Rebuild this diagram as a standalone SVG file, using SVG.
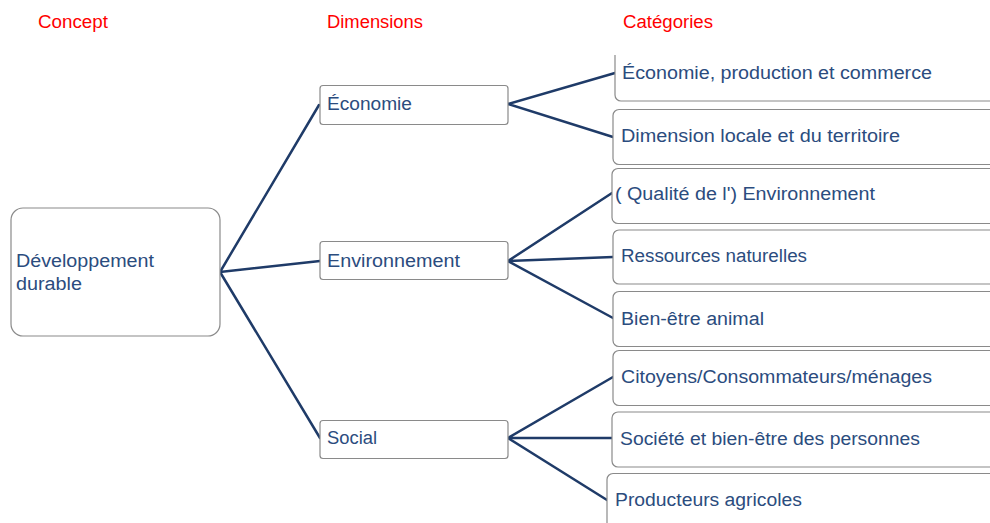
<svg xmlns="http://www.w3.org/2000/svg" width="990" height="523" viewBox="0 0 990 523">
  <style>
    .hdr { font-family: "Liberation Sans", Arial, sans-serif; font-size: 18px; fill: #ff0000; }
    .lbl { font-family: "Liberation Sans", Arial, sans-serif; font-size: 18px; fill: #2b4c7e; }
    .box { fill: #ffffff; stroke: #8a8a8a; stroke-width: 1.2; }
    .link { fill: none; stroke: #1f3b68; stroke-width: 2.5; stroke-linecap: round; }
  </style>
  <rect x="0" y="0" width="990" height="523" fill="#ffffff"/>

  <!-- column headers -->
  <g id="headers">
    <text class="hdr" x="38" y="28" textLength="70" lengthAdjust="spacingAndGlyphs">Concept</text>
    <text class="hdr" x="327" y="28" textLength="96" lengthAdjust="spacingAndGlyphs">Dimensions</text>
    <text class="hdr" x="623" y="28" textLength="90" lengthAdjust="spacingAndGlyphs">Catégories</text>
  </g>

  <!-- connectors -->
  <g id="connectors">
    <polyline class="link" points="319,105 220,272 320,261"/>
    <line class="link" x1="220" y1="272" x2="320" y2="438"/>
    <polyline class="link" points="615,73 508,104 613,137"/>
    <polyline class="link" points="612,193 508,261 613,257"/>
    <line class="link" x1="508" y1="261" x2="613" y2="318"/>
    <polyline class="link" points="613,377 508,438 612,438"/>
    <line class="link" x1="508" y1="438" x2="607" y2="500"/>
  </g>

  <!-- concept -->
  <g id="concept">
    <rect class="box" x="11" y="208" width="209" height="128" rx="12"/>
    <text class="lbl" x="16" y="267" textLength="138" lengthAdjust="spacingAndGlyphs">Développement</text>
    <text class="lbl" x="16" y="290" textLength="66" lengthAdjust="spacingAndGlyphs">durable</text>
  </g>

  <!-- dimensions -->
  <g id="dim-economie">
    <rect class="box" x="320" y="85.5" width="188" height="39" rx="3"/>
    <text class="lbl" x="327" y="110" textLength="85" lengthAdjust="spacingAndGlyphs">Économie</text>
  </g>
  <g id="dim-environnement">
    <rect class="box" x="320" y="241.5" width="188" height="38" rx="3"/>
    <text class="lbl" x="327" y="267" textLength="133" lengthAdjust="spacingAndGlyphs">Environnement</text>
  </g>
  <g id="dim-social">
    <rect class="box" x="320" y="420.5" width="188" height="38" rx="3"/>
    <text class="lbl" x="327" y="444" textLength="50" lengthAdjust="spacingAndGlyphs">Social</text>
  </g>

  <!-- categories (boxes run past the right edge) -->
  <g id="cat-economie-production">
    <path class="box" d="M615,55 V95 a6,6 0 0 0 6,6 H1000 V55"/>
    <text class="lbl" x="622" y="79" textLength="310" lengthAdjust="spacingAndGlyphs">Économie, production et commerce</text>
  </g>
  <g id="cat-dimension-locale">
    <rect class="box" x="613" y="109.5" width="400" height="55" rx="6"/>
    <text class="lbl" x="621" y="142" textLength="279" lengthAdjust="spacingAndGlyphs">Dimension locale et du territoire</text>
  </g>
  <g id="cat-qualite-environnement">
    <rect class="box" x="612" y="168.5" width="400" height="55" rx="6"/>
    <text class="lbl" x="615" y="200" textLength="260" lengthAdjust="spacingAndGlyphs">( Qualité de l') Environnement</text>
  </g>
  <g id="cat-ressources">
    <rect class="box" x="613" y="230" width="400" height="54" rx="6"/>
    <text class="lbl" x="621" y="262" textLength="186" lengthAdjust="spacingAndGlyphs">Ressources naturelles</text>
  </g>
  <g id="cat-bien-etre-animal">
    <rect class="box" x="613" y="291.5" width="400" height="55" rx="6"/>
    <text class="lbl" x="621" y="325" textLength="143" lengthAdjust="spacingAndGlyphs">Bien-être animal</text>
  </g>
  <g id="cat-citoyens">
    <rect class="box" x="613" y="350.5" width="400" height="55" rx="6"/>
    <text class="lbl" x="621" y="383" textLength="311" lengthAdjust="spacingAndGlyphs">Citoyens/Consommateurs/ménages</text>
  </g>
  <g id="cat-societe">
    <rect class="box" x="612" y="412" width="400" height="55" rx="6"/>
    <text class="lbl" x="620" y="445" textLength="300" lengthAdjust="spacingAndGlyphs">Société et bien-être des personnes</text>
  </g>
  <g id="cat-producteurs">
    <rect class="box" x="607" y="473.5" width="400" height="60" rx="6"/>
    <text class="lbl" x="615" y="506" textLength="187" lengthAdjust="spacingAndGlyphs">Producteurs agricoles</text>
  </g>
</svg>
